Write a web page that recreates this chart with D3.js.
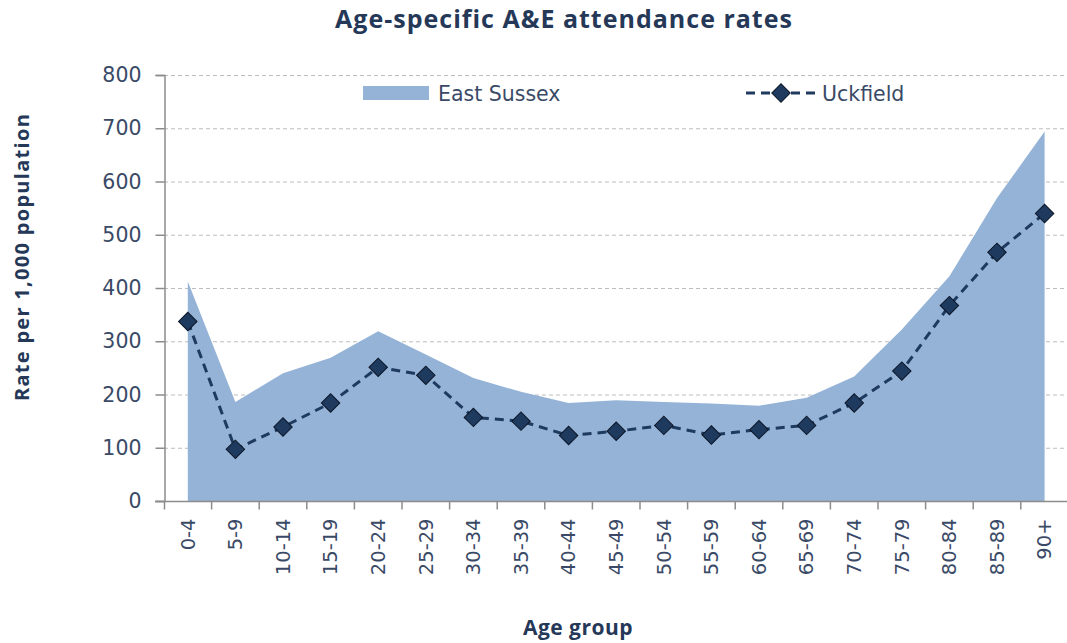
<!DOCTYPE html>
<html>
<head>
<meta charset="utf-8">
<script src="https://cdn.jsdelivr.net/npm/d3@7"></script>
<style>
  body { margin: 0; background: #fff; }
  svg { display: block; }
</style>
</head>
<body>
<div id="chart"></div>
<script>
        const ageGroups = ["0-4", "5-9", "10-14", "15-19", "20-24", "25-29", "30-34", "35-39", "40-44",
            "45-49", "50-54", "55-59", "60-64", "65-69", "70-74", "75-79", "80-84", "85-89", "90+"];
        const eastSussex = [412, 186, 240, 269, 319, 275, 231, 205, 184, 189, 186, 183, 179, 194, 234, 322, 422, 569, 694];
        const uckfield = [337, 97, 139, 184, 251, 236, 157, 150, 123, 131, 142, 124, 134, 142, 184, 244, 367, 467, 540];
        const yTicks = [0, 100, 200, 300, 400, 500, 600, 700, 800];

        const width = 1067;
        const height = 643;
        const margin = { top: 75, right: 0, bottom: 142, left: 164 };
        const navy = "#1f3a5f";
        const textColor = "#3a4a66";

        const svg = d3.select("#chart")
            .append("svg")
            .attr("width", width)
            .attr("height", height);

        const x = d3.scaleBand()
            .domain(ageGroups)
            .range([margin.left, margin.left + 19 * 47.6]);

        const y = d3.scaleLinear()
            .domain([0, 800])
            .range([height - margin.bottom, margin.top]);

        const cx = d => x(d) + x.bandwidth() / 2;

        // Сетка
        svg.append("g")
            .selectAll("line")
            .data(yTicks.filter(t => t > 0))
            .join("line")
            .attr("x1", margin.left)
            .attr("x2", width)
            .attr("y1", d => y(d) + 0.5)
            .attr("y2", d => y(d) + 0.5)
            .attr("stroke", "#bdbdbd")
            .attr("stroke-dasharray", "4,3");

        // Область East Sussex
        const area = d3.area()
            .x((d, i) => cx(ageGroups[i]))
            .y0(y(0))
            .y1(d => y(d));

        svg.append("path")
            .datum(eastSussex)
            .attr("d", area)
            .attr("fill", "#95b3d7");

        // Ось Y
        const yAxis = svg.append("g")
            .attr("transform", `translate(${margin.left + 0.5},0)`)
            .call(d3.axisLeft(y).tickValues(yTicks).tickSize(9).tickPadding(14));
        yAxis.select(".domain").attr("stroke", "#8c8c8c").attr("stroke-width", 1.5);
        yAxis.selectAll(".tick line").attr("stroke", "#8c8c8c").attr("stroke-width", 1.5);
        yAxis.selectAll(".tick text")
            .attr("fill", textColor)
            .style("font-family", "DejaVu Sans")
            .style("font-size", "20.5px");

        // Ось X
        const xAxis = svg.append("g")
            .attr("transform", `translate(0,${y(0) + 0.5})`)
            .call(d3.axisBottom(x).tickSize(0));
        xAxis.select(".domain").remove();
        xAxis.append("line")
            .attr("x1", 155)
            .attr("x2", width)
            .attr("stroke", "#8c8c8c")
            .attr("stroke-width", 1.5);
        xAxis.selectAll(".tickmark")
            .data(ageGroups)
            .join("line")
            .attr("class", "tickmark")
            .attr("x1", d => x(d) + x.bandwidth())
            .attr("x2", d => x(d) + x.bandwidth())
            .attr("y1", 0)
            .attr("y2", 8)
            .attr("stroke", "#8c8c8c")
            .attr("stroke-width", 1.5);
        xAxis.append("line")
            .attr("x1", margin.left + 0.5)
            .attr("x2", margin.left + 0.5)
            .attr("y1", 0)
            .attr("y2", 8)
            .attr("stroke", "#8c8c8c")
            .attr("stroke-width", 1.5);
        xAxis.selectAll(".tick text")
            .attr("fill", textColor)
            .style("font-family", "DejaVu Sans")
            .style("font-size", "19.5px")
            .attr("text-anchor", "end")
            .attr("transform", "rotate(-90)")
            .attr("x", -17)
            .attr("y", 0)
            .attr("dy", "0.35em");

        // Линия Uckfield
        const line = d3.line()
            .x((d, i) => cx(ageGroups[i]))
            .y(d => y(d));

        svg.append("path")
            .datum(uckfield)
            .attr("d", line)
            .attr("fill", "none")
            .attr("stroke", navy)
            .attr("stroke-width", 3)
            .attr("stroke-dasharray", "9,6");

        const diamond = d3.symbol().type(d3.symbolSquare).size(170);

        svg.append("g")
            .selectAll("path")
            .data(uckfield)
            .join("path")
            .attr("d", diamond)
            .attr("transform", (d, i) => `translate(${cx(ageGroups[i])},${y(d)}) rotate(45)`)
            .attr("fill", navy)
            .attr("stroke", "#0b1626")
            .attr("stroke-width", 1);

        // Легенда
        svg.append("rect")
            .attr("x", 363)
            .attr("y", 86)
            .attr("width", 66)
            .attr("height", 14)
            .attr("fill", "#95b3d7");
        svg.append("text")
            .attr("x", 438)
            .attr("y", 101)
            .attr("fill", textColor)
            .style("font-family", "DejaVu Sans")
            .style("font-size", "20.5px")
            .text("East Sussex");

        svg.append("line")
            .attr("x1", 746)
            .attr("x2", 817)
            .attr("y1", 93)
            .attr("y2", 93)
            .attr("stroke", navy)
            .attr("stroke-width", 3)
            .attr("stroke-dasharray", "9,6");
        svg.append("path")
            .attr("d", diamond)
            .attr("transform", "translate(781,93) rotate(45)")
            .attr("fill", navy)
            .attr("stroke", "#0b1626");
        svg.append("text")
            .attr("x", 822)
            .attr("y", 101)
            .attr("fill", textColor)
            .style("font-family", "DejaVu Sans")
            .style("font-size", "20.5px")
            .text("Uckfield");

        // Заголовки
        svg.append("text")
            .attr("x", 564)
            .attr("y", 28)
            .attr("text-anchor", "middle")
            .attr("fill", "#253858")
            .style("font-family", "Open Sans")
            .style("font-weight", "bold")
            .style("font-size", "25px")
            .style("letter-spacing", "1px")
            .text("Age-specific A&E attendance rates");

        svg.append("text")
            .attr("transform", "translate(29,257) rotate(-90)")
            .attr("text-anchor", "middle")
            .attr("fill", "#253858")
            .style("font-family", "Open Sans")
            .style("font-weight", "bold")
            .style("font-size", "20px")
            .style("letter-spacing", "1.3px")
            .text("Rate per 1,000 population");

        svg.append("text")
            .attr("x", 578)
            .attr("y", 635)
            .attr("text-anchor", "middle")
            .attr("fill", "#253858")
            .style("font-family", "Open Sans")
            .style("font-weight", "bold")
            .style("font-size", "21px")
            .style("letter-spacing", "0.5px")
            .text("Age group");
</script>
</body>
</html>
